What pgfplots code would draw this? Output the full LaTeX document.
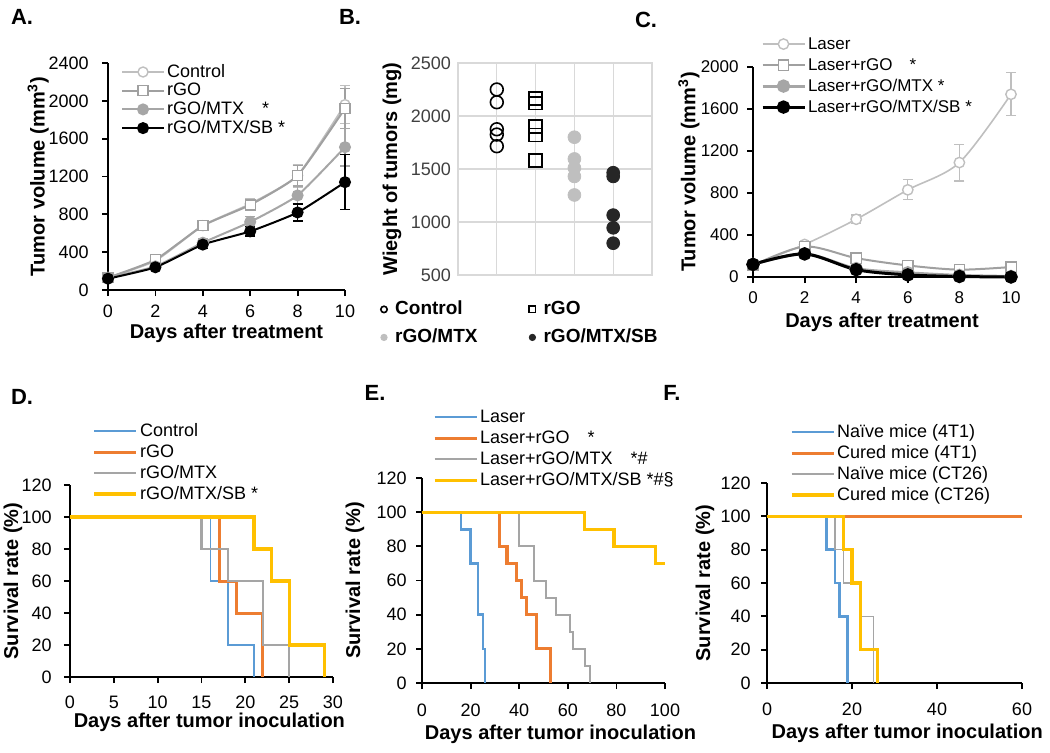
\documentclass[border=0pt]{standalone}
\usepackage{fontspec}
\setmainfont{Liberation Sans}
\usepackage{pgfplots}
\pgfplotsset{compat=1.18}

\definecolor{lgray}{HTML}{BFBFBF}
\definecolor{mgray}{HTML}{A0A0A0}
\definecolor{dgray}{HTML}{A6A6A6}
\definecolor{sbfill}{HTML}{262626}
\definecolor{xblue}{HTML}{5B9BD5}
\definecolor{xorange}{HTML}{ED7D31}
\definecolor{xgray}{HTML}{A5A5A5}
\definecolor{xgold}{HTML}{FFC000}

\pgfplotsset{
  fig/.style={
    scale only axis, anchor=south west, clip=false,
    axis x line*=bottom, axis y line*=left,
    axis line style={line width=1pt, black},
    tick style={line width=0.9pt, black},
    tick align=outside, major tick length=3pt,
    ticklabel style={font=\fontsize{9}{10}\selectfont, inner sep=0pt},
    /pgf/number format/assume math mode=true,
    /pgf/number format/1000 sep={},
    label style={font=\bfseries\fontsize{10}{12}\selectfont, inner sep=0pt},
    legend cell align=left,
    legend image code/.code={\draw[mark repeat=2,mark phase=2,##1] plot coordinates {(0pt,0pt)(10.5pt,0pt)(21pt,0pt)};},
    legend style={draw=none, fill=none, inner sep=0pt, outer sep=0pt, anchor=north west,
      font=\fontsize{9}{10}\selectfont,
      nodes={inner sep=0pt, text height=7pt, text depth=2pt, anchor=west},
      row sep=1.5pt, /tikz/every odd column/.append style={column sep=1pt}},
  },
  ebar/.style={error bars/y dir=both, error bars/y explicit,
    error bars/error mark options={rotate=90, mark size=2.5pt, line width=0.6pt},
    error bars/error bar style={line width=0.6pt}},
}

\begin{document}
\begin{tikzpicture}
\useasboundingbox (0pt,0pt) rectangle (525pt,376pt);

% panel letters
\begin{scope}[every node/.style={font=\bfseries\fontsize{11}{12}\selectfont}]
\node at (11pt,367.5pt) {A.};
\node at (175pt,367.5pt) {B.};
\node at (323pt,366pt) {C.};
\node at (11pt,177.5pt) {D.};
\node at (187.5pt,179.5pt) {E.};
\node at (336pt,179.5pt) {F.};
\end{scope}

% A
\begin{axis}[fig, ebar, at={(54pt,231pt)}, width=118.5pt, height=113.5pt,
  xmin=0, xmax=10, ymin=0, ymax=2400,
  xtick={0,2,...,10}, ytick={0,400,...,2400},
  xticklabel style={yshift=-4.5pt}, yticklabel style={xshift=-6.5pt},
  xlabel={Days after treatment}, ylabel={Tumor volume (mm\textsuperscript{3})},
  xlabel style={at={(axis description cs:0.5,-0.19)}, anchor=center},
  ylabel style={at={(axis description cs:-0.295,0.5)}, anchor=center},
  legend style={at={(axis description cs:0.055,1.0)}, row sep=0.35pt}]
\addplot[color=lgray, line width=1pt, smooth, tension=0.3, mark=*, mark size=2.5pt,
  mark options={fill=white, line width=0.7pt}] coordinates {
  (0,130) +- (0,15) (2,310) +- (0,30) (4,680) +- (0,50)
  (6,910) +- (0,60) (8,1210) +- (0,120) (10,1960) +- (0,200)};
\addlegendentry{Control}
\addplot[color=mgray, line width=1pt, smooth, tension=0.3, mark=square*, mark size=2.5pt,
  mark options={fill=white, line width=0.7pt}] coordinates {
  (0,130) +- (0,15) (2,320) +- (0,30) (4,680) +- (0,50)
  (6,900) +- (0,60) (8,1210) +- (0,110) (10,1920) +- (0,210)};
\addlegendentry{rGO}
\addplot[color=dgray, line width=1pt, smooth, tension=0.3, mark=*, mark size=2.5pt] coordinates {
  (0,130) +- (0,15) (2,250) +- (0,25) (4,500) +- (0,40)
  (6,720) +- (0,60) (8,1000) +- (0,100) (10,1510) +- (0,200)};
\addlegendentry{rGO/MTX\quad *}
\addplot[color=black, line width=1pt, smooth, tension=0.3, mark=*, mark size=2.5pt] coordinates {
  (0,120) +- (0,15) (2,240) +- (0,25) (4,480) +- (0,40)
  (6,620) +- (0,50) (8,820) +- (0,90) (10,1140) +- (0,290)};
\addlegendentry{rGO/MTX/SB *}
\end{axis}

% B
\begin{axis}[scale only axis, anchor=south west, clip=false, at={(229pt,238.5pt)}, width=97pt, height=106pt,
  xmin=0, xmax=5, ymin=500, ymax=2500,
  xtick={1,2,3,4}, xticklabels={}, ytick={500,1000,...,2500},
  grid=major, major grid style={color=black!15, line width=0.6pt},
  axis line style={color=black!15, line width=0.6pt}, major tick length=0pt,
  ticklabel style={font=\fontsize{9}{10}\selectfont, text=black!75},
  /pgf/number format/assume math mode=true, /pgf/number format/1000 sep={},
  ylabel={Wieght of tumors (mg)},
  label style={font=\bfseries\fontsize{10}{12}\selectfont, inner sep=0pt},
  ylabel style={at={(axis description cs:-0.34,0.5)}, anchor=center},
  legend columns=2, legend cell align=left,
  legend image code/.code={\draw[#1, mark size=1.6pt] plot coordinates {(0pt,0pt)};},
  legend style={draw=none, fill=none, inner sep=0pt, anchor=north west,
    at={(axis description cs:-0.40,-0.118)},
    font=\bfseries\fontsize{9.5}{11}\selectfont,
    nodes={inner sep=0pt, text height=7pt, text depth=2pt, anchor=west, text width=67pt},
    row sep=5pt, /tikz/every odd column/.append style={column sep=4pt}}]
\addplot[only marks, mark=o, mark size=3.2pt, black, mark options={line width=0.8pt}] coordinates {
  (1,2250) (1,2130) (1,1875) (1,1825) (1,1715)};
\addlegendentry{Control}
\addplot[only marks, mark=square, mark size=3.2pt, black, mark options={line width=0.8pt}] coordinates {
  (2,2165) (2,2120) (2,1900) (2,1820) (2,1580)};
\addlegendentry{rGO}
\addplot[only marks, mark=*, mark size=3.2pt, color=lgray] coordinates {
  (3,1800) (3,1595) (3,1510) (3,1430) (3,1255)};
\addlegendentry{rGO/MTX}
\addplot[only marks, mark=*, mark size=3.2pt, color=sbfill] coordinates {
  (4,1465) (4,1430) (4,1065) (4,945) (4,800)};
\addlegendentry{rGO/MTX/SB}
\end{axis}

% C
\begin{axis}[fig, ebar, at={(376.5pt,237.5pt)}, width=129pt, height=105pt,
  xmin=0, xmax=10, ymin=0, ymax=2000,
  xtick={0,2,...,10}, ytick={0,400,...,2000},
  ticklabel style={font=\fontsize{8.5}{10}\selectfont},
  xticklabel style={yshift=-4pt}, yticklabel style={xshift=-4pt},
  xlabel={Days after treatment}, ylabel={Tumor volume (mm\textsuperscript{3})},
  xlabel style={at={(axis description cs:0.5,-0.218)}, anchor=center},
  ylabel style={at={(axis description cs:-0.248,0.5)}, anchor=center},
  legend style={at={(axis description cs:0.031,1.152)}, font=\fontsize{8.5}{10}\selectfont}]
\addplot[color=lgray, line width=0.8pt, smooth, mark=*, mark size=2.6pt,
  mark options={fill=white, line width=0.7pt}] coordinates {
  (0,120) +- (0,20) (2,310) +- (0,30) (4,550) +- (0,40)
  (6,830) +- (0,95) (8,1090) +- (0,175) (10,1740) +- (0,205)};
\addlegendentry{Laser}
\addplot[color=mgray, line width=1pt, smooth, mark=square*, mark size=2.6pt,
  mark options={fill=white, line width=0.7pt}] coordinates {
  (0,110) +- (0,15) (2,290) +- (0,25) (4,180) +- (0,20)
  (6,110) +- (0,15) (8,70) +- (0,10) (10,95) +- (0,10)};
\addlegendentry{Laser+rGO\quad *}
\addplot[color=dgray, line width=1.5pt, smooth, mark=*, mark size=2.6pt] coordinates {
  (0,120) +- (0,10) (2,220) +- (0,20) (4,80) +- (0,10)
  (6,40) +- (0,5) (8,15) +- (0,5) (10,5) +- (0,2)};
\addlegendentry{Laser+rGO/MTX *}
\addplot[color=black, line width=1.5pt, smooth, mark=*, mark size=2.6pt] coordinates {
  (0,120) +- (0,10) (2,220) +- (0,20) (4,70) +- (0,10)
  (6,20) +- (0,5) (8,5) +- (0,2) (10,0) +- (0,0)};
\addlegendentry{Laser+rGO/MTX/SB *}
\end{axis}

% D
\begin{axis}[fig, const plot, at={(35pt,37.5pt)}, width=131.5pt, height=96pt,
  xmin=0, xmax=30, ymin=0, ymax=120,
  xtick={0,5,...,30}, ytick={0,20,...,120},
  xticklabel style={yshift=-6.5pt}, yticklabel style={xshift=-6pt},
  xlabel={Days after tumor inoculation}, ylabel={Survival rate (\%)},
  xlabel style={at={(axis description cs:0.53,-0.238)}, anchor=center},
  ylabel style={at={(axis description cs:-0.217,0.5)}, anchor=center},
  legend style={at={(axis description cs:0.087,1.328)}}]
\addplot[xblue, line width=0.75pt] coordinates {(0,100) (16,60) (18,20) (21,0)};
\addlegendentry{Control}
\addplot[xorange, line width=1.5pt] coordinates {(0,100) (17,60) (19,40) (22,0)};
\addlegendentry{rGO}
\addplot[xgray, line width=1.25pt] coordinates {(0,100) (15,80) (18,60) (22,20) (25,0)};
\addlegendentry{rGO/MTX}
\addplot[xgold, line width=1.6pt] coordinates {(0,100) (21,80) (23,60) (25,20) (29,0)};
\addlegendentry{rGO/MTX/SB *}
\end{axis}

% E
\begin{axis}[fig, const plot, at={(211pt,34.5pt)}, width=121.5pt, height=102.5pt,
  xmin=0, xmax=100, ymin=0, ymax=120,
  xtick={0,20,...,100}, ytick={0,20,...,120},
  xticklabel style={yshift=-7.5pt}, yticklabel style={xshift=-4.5pt},
  xlabel={Days after tumor inoculation}, ylabel={Survival rate (\%)},
  xlabel style={at={(axis description cs:0.57,-0.248)}, anchor=center},
  ylabel style={at={(axis description cs:-0.276,0.5)}, anchor=center},
  legend style={at={(axis description cs:0.045,1.341)}}]
\addplot[xblue, line width=1.25pt] coordinates {(0,100) (16,90) (20,70) (23,40) (25,20) (26,0)};
\addlegendentry{Laser}
\addplot[xorange, line width=1.6pt] coordinates {(0,100) (32,80) (35,70) (39,60) (41,50) (43,40) (47,20) (53,0)};
\addlegendentry{Laser+rGO\quad *}
\addplot[xgray, line width=1pt] coordinates {(0,100) (40,80) (46,60) (51,50) (55,40) (61,30) (62,20) (67,10) (69,0)};
\addlegendentry{Laser+rGO/MTX\quad *\#}
\addplot[xgold, line width=1.6pt] coordinates {(0,100) (67,90) (79,80) (96,70) (100,70)};
\addlegendentry{Laser+rGO/MTX/SB *\#§}
\end{axis}

% F
\begin{axis}[fig, const plot, at={(383.5pt,34.5pt)}, width=127.5pt, height=100pt,
  xmin=0, xmax=60, ymin=0, ymax=120,
  xtick={0,20,...,60}, ytick={0,20,...,120},
  xticklabel style={yshift=-7pt}, yticklabel style={xshift=-5pt},
  xlabel={Days after tumor inoculation}, ylabel={Survival rate (\%)},
  xlabel style={at={(axis description cs:0.55,-0.25)}, anchor=center},
  ylabel style={at={(axis description cs:-0.243,0.5)}, anchor=center},
  legend style={at={(axis description cs:0.09,1.30)}}]
\addplot[xblue, line width=1.3pt] coordinates {(0,100) (14,80) (16,60) (17,40) (19,0)};
\addlegendentry{Naïve mice (4T1)}
\addplot[xorange, line width=1.5pt] coordinates {(0,100) (60,100)};
\addlegendentry{Cured mice (4T1)}
\addplot[xgray, line width=0.75pt] coordinates {(0,100) (16,80) (18,60) (22,40) (25,0)};
\addlegendentry{Naïve mice (CT26)}
\addplot[xgold, line width=1.6pt] coordinates {(0,100) (18,80) (20,60) (22,20) (26,0)};
\addlegendentry{Cured mice (CT26)}
\end{axis}
\end{tikzpicture}
\end{document}
